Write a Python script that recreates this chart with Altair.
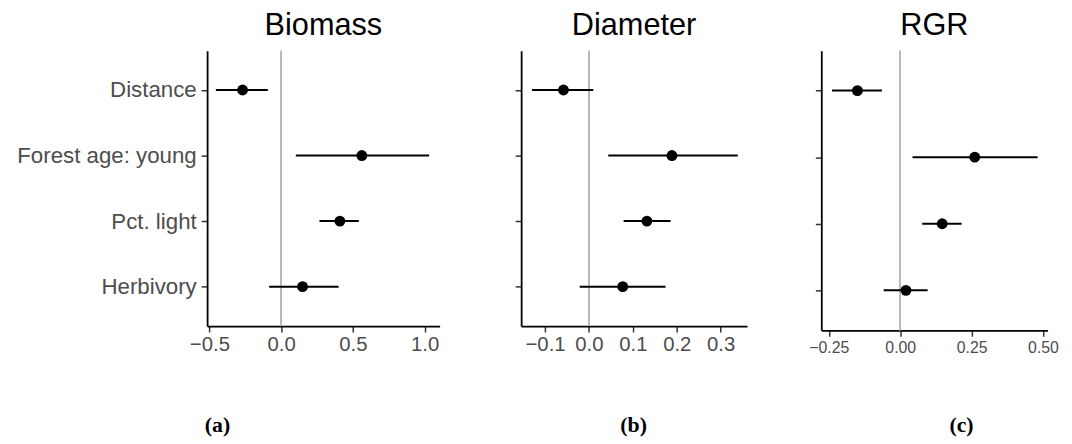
import altair as alt
import pandas as pd

terms = ["Distance", "Forest age: young", "Pct. light", "Herbivory"]

biomass_est = [-0.269, 0.562, 0.409, 0.149]
biomass_lo = [-0.455, 0.102, 0.267, -0.084]
biomass_hi = [-0.093, 1.031, 0.541, 0.400]

diameter_est = [-0.058, 0.189, 0.132, 0.077]
diameter_lo = [-0.1295, 0.044, 0.079, -0.021]
diameter_hi = [0.010, 0.339, 0.186, 0.1745]

rgr_est = [-0.150, 0.261, 0.147, 0.020]
rgr_lo = [-0.239, 0.043, 0.077, -0.058]
rgr_hi = [-0.064, 0.481, 0.215, 0.096]

biomass_ticks = [-0.5, 0.0, 0.5, 1.0]
diameter_ticks = [-0.1, 0.0, 0.1, 0.2, 0.3]
rgr_ticks = [-0.25, 0.0, 0.25, 0.5]

titles = ["Biomass", "Diameter", "RGR"]
captions = ["(a)", "(b)", "(c)"]


def panel(title, est, lo, hi, domain, ticks, fmt, width, height, show_labels,
          tick_font, caption, cap_x, cap_y):
    df = pd.DataFrame({"term": terms, "est": est, "lo": lo, "hi": hi})
    xaxis = alt.Axis(values=ticks, format=fmt, title=caption,
                     titleFont="Liberation Serif", titleFontWeight="bold",
                     titleFontSize=22, titleColor="black", titleX=cap_x,
                     titleY=cap_y, titleAlign="center", titleBaseline="alphabetic",
                     labelFontSize=tick_font, labelColor="#4d4d4d",
                     labelFont="Liberation Sans", tickSize=6, labelPadding=3,
                     labelFlush=False, labelOverlap=False)
    yaxis = alt.Axis(title=None, labels=show_labels, labelFontSize=22.5,
                     labelColor="#4d4d4d", labelFont="Liberation Sans",
                     tickSize=6, labelPadding=5, labelLimit=400)
    xscale = alt.Scale(domain=domain, nice=False, zero=False)
    yenc = alt.Y("term:N", sort=terms, scale=alt.Scale(type="point", padding=0.6),
                 axis=yaxis)
    base = alt.Chart(df)
    zero = base.mark_rule(color="#b8b8b8", strokeWidth=1.5).encode(
        x=alt.X(datum=0, scale=xscale, axis=xaxis))
    bars = base.mark_rule(color="black", strokeWidth=2).encode(
        y=yenc, x=alt.X("lo:Q", scale=xscale, axis=xaxis), x2="hi:Q")
    pts = base.mark_circle(color="black", size=120, opacity=1).encode(
        y=yenc, x=alt.X("est:Q", scale=xscale, axis=xaxis))
    return alt.layer(zero, bars, pts).properties(
        width=width, height=height,
        title=alt.TitleParams(title, fontSize=31, font="Liberation Sans",
                              fontWeight="normal", anchor="middle",
                              baseline="alphabetic", offset=-16, color="black"))


def spacer(w):
    return alt.Chart(pd.DataFrame({"a": [0]})).mark_text(text="").encode(
        x=alt.value(0), y=alt.value(0)).properties(width=w, height=278)


pa = panel(titles[0], biomass_est, biomass_lo, biomass_hi, [-0.516, 1.104],
           biomass_ticks, ".1f", 234.7, 278, True, 20.5, captions[0], 10, 106)
pb = panel(titles[1], diameter_est, diameter_lo, diameter_hi, [-0.1544, 0.360],
           diameter_ticks, ".1f", 228, 278, False, 20.5, captions[1], 113, 106)
pc = panel(titles[2], rgr_est, rgr_lo, rgr_hi, [-0.2765, 0.516],
           rgr_ticks, ".2f", 228.4, 282.3, False, 16, captions[2], 141, 102)

chart = alt.hconcat(pa, spacer(21.6), pb, spacer(15), pc, spacing=30,
                    bounds="flush").properties(
    padding={"left": 8, "top": 0, "right": 5, "bottom": 0}
).configure_view(stroke=None).configure_axis(
    grid=False, domainColor="black", domainWidth=1.8, tickColor="#333333",
    tickWidth=1.5)

chart.save("out.html", embed_options={"renderer": "svg", "actions": False})
